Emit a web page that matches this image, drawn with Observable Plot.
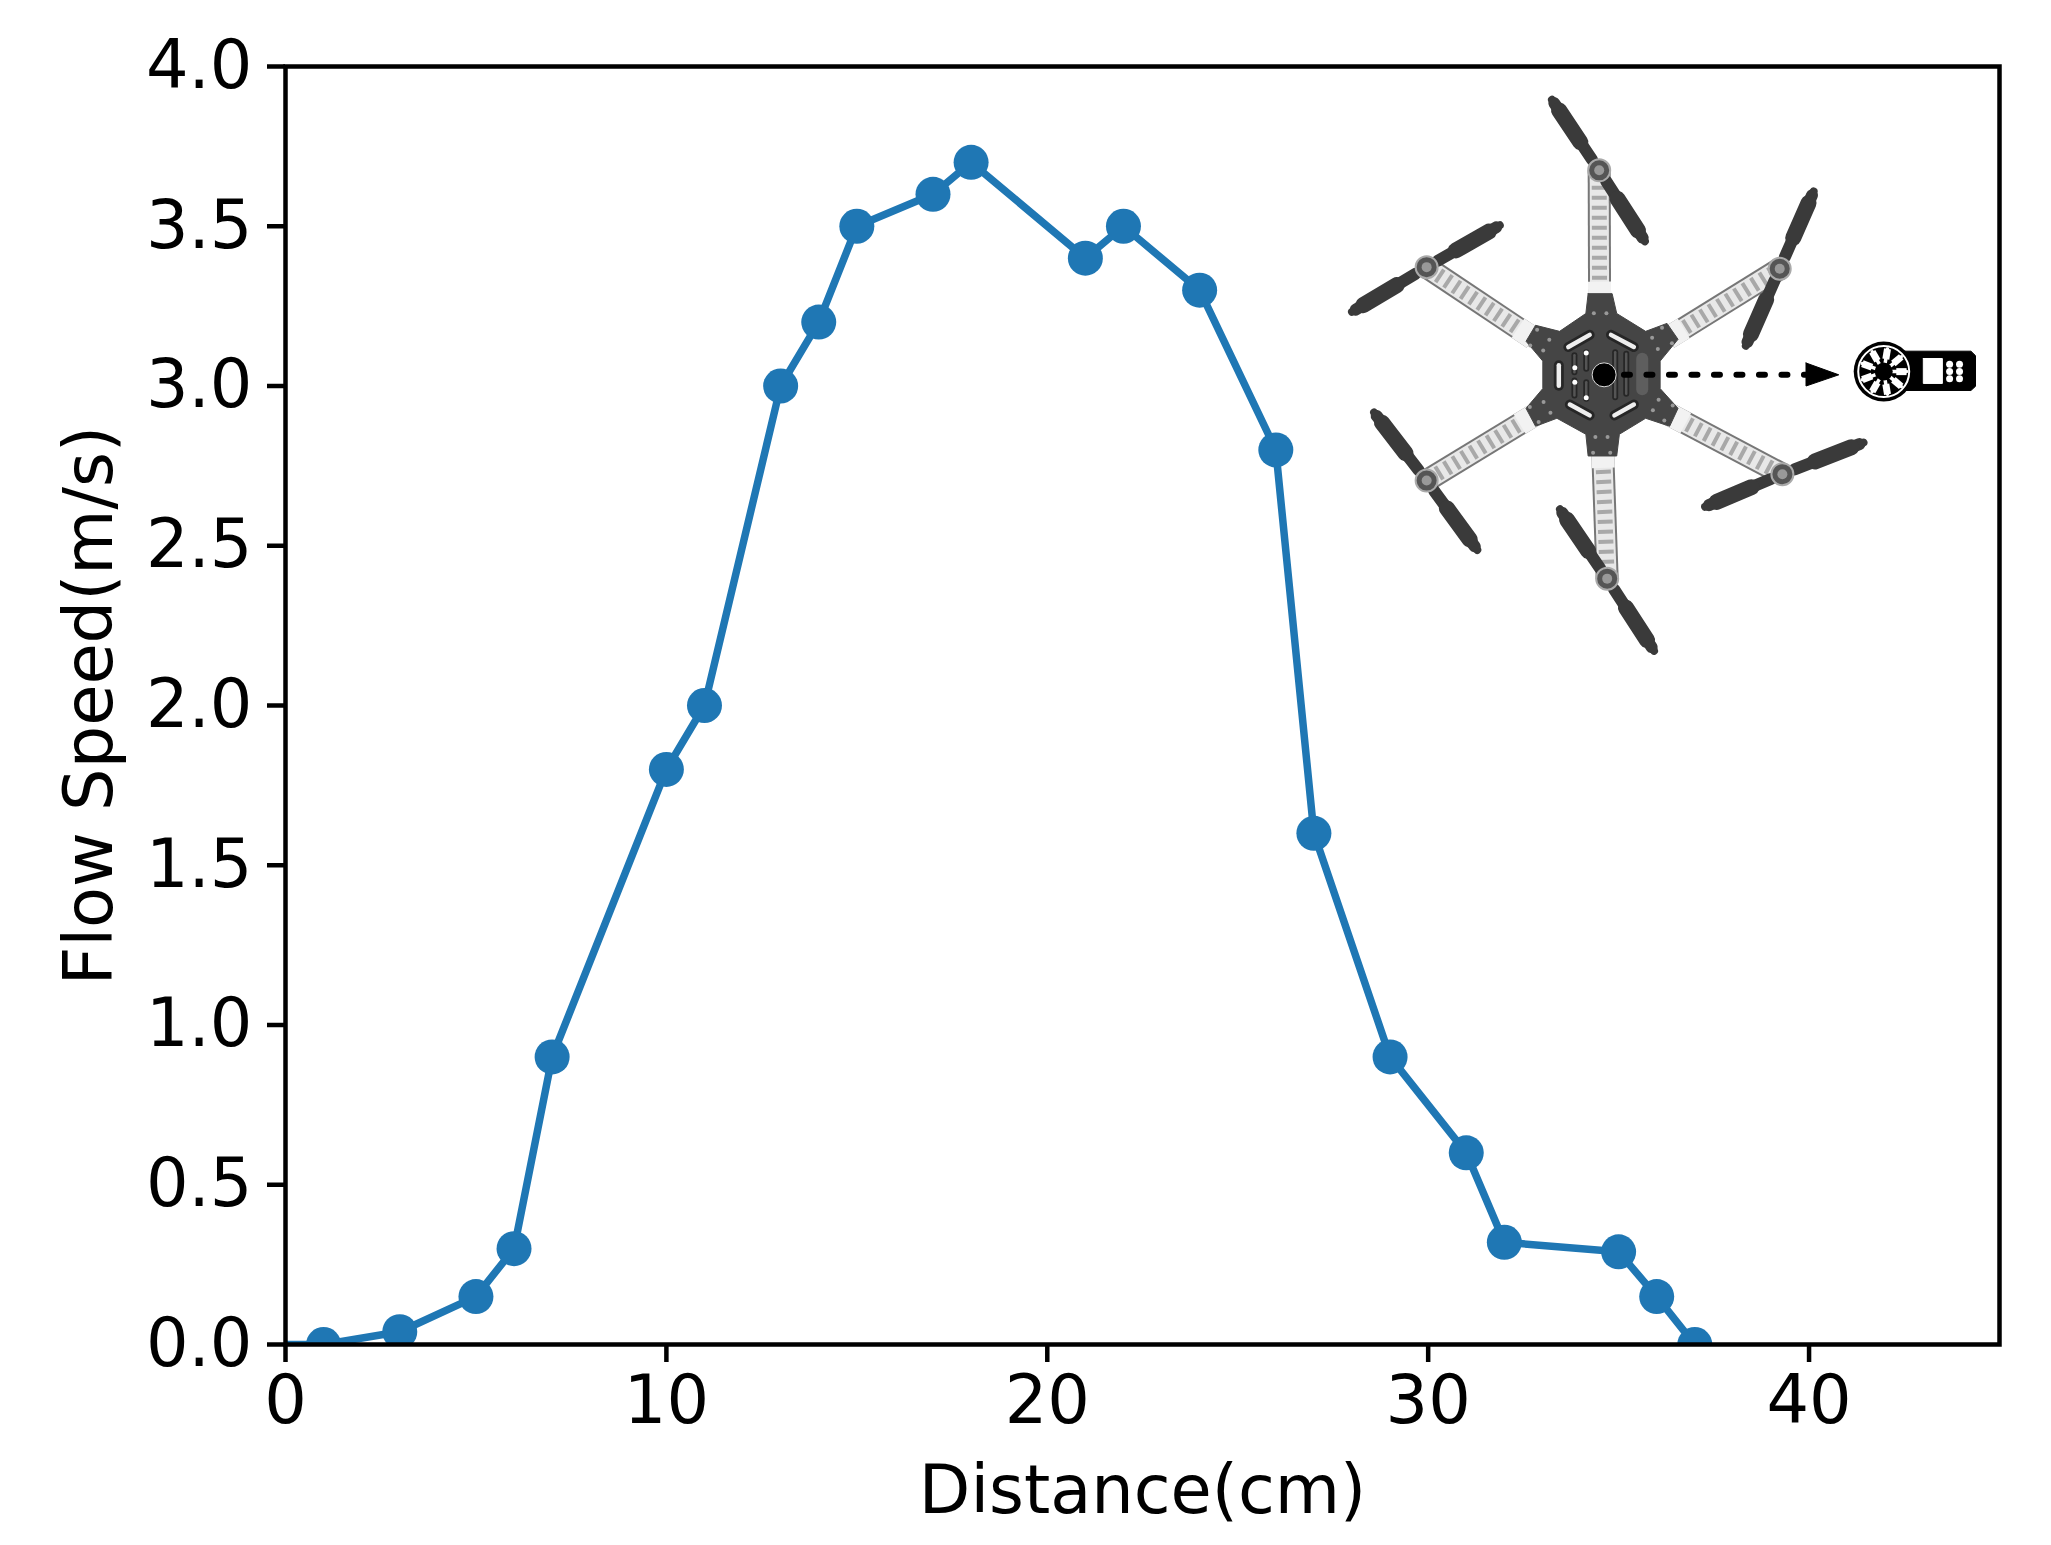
<!DOCTYPE html>
<html><head><meta charset="utf-8">
<script src="https://cdn.jsdelivr.net/npm/d3@7"></script>
<script src="https://cdn.jsdelivr.net/npm/@observablehq/plot@0.6"></script>
<style>html,body{margin:0;padding:0;background:#fff}svg{display:block}</style>
</head><body><div id="chart"></div>
<script>
// Measured series
const distance = [-1,1,3,5,6,7,10,11,13,14,15,17,18,21,22,24,26,27,29,31,32,35,36,37];
const speed = [0,0,0.04,0.15,0.3,0.9,1.8,2.0,3.0,3.2,3.5,3.6,3.7,3.4,3.5,3.3,2.8,1.6,0.9,0.6,0.32,0.29,0.15,0];
const xTicks = [0,10,20,30,40];
const yTicks = [0,0.5,1,1.5,2,2.5,3,3.5,4];

// Inset illustration, in chart units [distance, speed]
const motors = [[34.49,3.675],[39.23,3.367],[39.30,2.724],[34.70,2.397],[29.96,2.704],[29.96,3.372]];
const armRoots = [[34.50,3.27],[36.30,3.15],[36.35,2.91],[34.58,2.80],[32.80,2.91],[32.75,3.15]];
const propTipsA = [[33.25,3.896],[40.12,3.609],[41.43,2.823],[33.46,2.614],[28.58,2.917],[31.88,3.503]];
const propTipsB = [[35.69,3.453],[38.34,3.126],[37.27,2.622],[35.93,2.171],[31.29,2.487],[28.00,3.232]];
const plate = [[34.20,3.289],[34.83,3.289],[34.95,3.227],[35.71,3.171],[36.27,3.196],[36.56,3.146],[36.09,3.078],[36.09,2.992],[36.56,2.930],[36.34,2.874],[35.71,2.899],[35.02,2.849],[34.95,2.781],[34.20,2.781],[34.14,2.849],[33.38,2.899],[32.82,2.874],[32.57,2.930],[33.01,2.992],[33.01,3.078],[32.57,3.140],[32.82,3.190],[33.45,3.171],[34.14,3.227],[34.20,3.289]];
const windows = [[[33.68,3.122],[34.24,3.160]],[[34.80,3.160],[35.40,3.122]],[[33.72,2.942],[34.24,2.908]],[[34.89,2.908],[35.40,2.942]],[[33.43,3.065],[33.43,3.001]]];
const slots = [[[33.84,3.096],[33.84,3.043]],[[34.15,3.106],[34.15,3.054]],[[33.84,3.017],[33.84,2.970]],[[34.15,3.012],[34.15,2.960]],[[34.91,3.106],[34.91,2.965]],[[35.20,3.101],[35.20,2.976]]];
const slotSpots = [[33.85,3.057],[33.85,3.012],[34.15,3.103],[34.15,2.963]];
const lens = [[35.62,3.085],[35.62,2.990]];
const holes = [[34.35,3.228],[34.68,3.228],[32.86,3.176],[33.18,3.145],[33.02,3.111],[32.68,3.127],[36.14,3.182],[35.88,3.151],[36.03,3.116],[36.40,3.134],[32.67,2.934],[33.03,2.950],[33.21,2.916],[32.90,2.887],[36.42,2.939],[36.05,2.957],[35.90,2.924],[36.20,2.892],[34.39,2.840],[34.71,2.840],[34.33,2.791],[34.78,2.791]];
const hub = [[34.62,3.035]];
const arrowShaft = [[35.14,3.035],[39.95,3.035]];
const arrowHead = [[39.92,3.072],[40.78,3.035],[39.92,3.000],[39.92,3.072]];
const fanCentre = [[41.96,3.045]];
const fanSpokes = [[42.56,3.045],[42.42,3.091],[42.06,3.116],[41.66,3.107],[41.40,3.070],[41.40,3.020],[41.66,2.983],[42.06,2.974],[42.42,2.999]];
const meterBody = [[42.45,3.109],[44.25,3.109],[44.37,3.095],[44.37,2.999],[44.25,2.986],[42.45,2.986],[42.45,3.109]];
const meterScreen = [[43.00,3.086],[43.50,3.086],[43.50,3.008],[43.00,3.008],[43.00,3.086]];
const meterButtons = [[43.69,3.068],[43.95,3.068],[43.69,3.045],[43.95,3.045],[43.69,3.023],[43.95,3.023]];

const px = d => d[0], py = d => d[1];
const along = (a, b, t) => [a[0] + (b[0] - a[0]) * t, a[1] + (b[1] - a[1]) * t];
const seg = (a, b, opts) => Plot.line([a, b], {x: px, y: py, ...opts});
const poly = (p, fill) => Plot.line(p, {x: px, y: py, fill, stroke: fill, strokeWidth: 1});

const arms = motors.flatMap((m, i) => [
  seg(armRoots[i], m, {stroke: "#777", strokeWidth: 23, strokeLinecap: "butt"}),
  seg(armRoots[i], m, {stroke: "#e8e8e8", strokeWidth: 19, strokeLinecap: "butt"}),
  seg(armRoots[i], m, {stroke: "#a8a8a8", strokeWidth: 15, strokeDasharray: "4 6", strokeLinecap: "butt"}),
  seg(armRoots[i], along(armRoots[i], m, 0.14), {stroke: "#f2f2f2", strokeWidth: 23, strokeLinecap: "butt"})
]);
const props = motors.flatMap((m, i) => [propTipsA[i], propTipsB[i]].flatMap(tip => [
  seg(tip, m, {stroke: "#3a3a3a", strokeWidth: 8, strokeLinecap: "round"}),
  seg(along(tip, m, 0.05), along(tip, m, 0.85), {stroke: "#3a3a3a", strokeWidth: 12, strokeLinecap: "round"}),
  seg(along(tip, m, 0.15), along(tip, m, 0.6), {stroke: "#3a3a3a", strokeWidth: 16, strokeLinecap: "round"})
]));

const chart = Plot.plot({
  width: 2051, height: 1545,
  marginLeft: 285, marginRight: 52, marginTop: 66, marginBottom: 201,
  style: {fontFamily: "'DejaVu Sans', sans-serif", background: "#fff", color: "#000"},
  x: {domain: [0, 45]},
  y: {domain: [0, 4]},
  marks: [
    Plot.line(distance.map((d, i) => [d, speed[i]]), {x: px, y: py, stroke: "#1f77b4", strokeWidth: 7.5, clip: "frame"}),
    Plot.dot(distance.map((d, i) => [d, speed[i]]), {x: px, y: py, r: 17.5, fill: "#1f77b4", clip: "frame"}),
    ...arms,
    ...props,
    Plot.dot(motors, {x: px, y: py, r: 11, fill: "#555", stroke: "#aaa", strokeWidth: 2}),
    Plot.dot(motors, {x: px, y: py, r: 5, fill: "#999"}),
    poly(plate, "#454545"),
    Plot.dot(holes, {x: px, y: py, r: 2, fill: "#999"}),
    ...windows.map(s => seg(s[0], s[1], {stroke: "#262626", strokeWidth: 10, strokeLinecap: "round"})),
    ...windows.map(s => seg(s[0], s[1], {stroke: "#eee", strokeWidth: 4.5, strokeLinecap: "round"})),
    ...slots.map(s => seg(s[0], s[1], {stroke: "#262626", strokeWidth: 6, strokeLinecap: "round"})),
    ...slots.map(s => seg(s[0], s[1], {stroke: "#555", strokeWidth: 2.5, strokeLinecap: "round"})),
    Plot.dot(slotSpots, {x: px, y: py, r: 2.5, fill: "#fff"}),
    Plot.line(lens, {x: px, y: py, stroke: "#5e5e5e", strokeWidth: 12, strokeLinecap: "round"}),
    Plot.line(arrowShaft, {x: px, y: py, stroke: "#000", strokeWidth: 6, strokeDasharray: "6 16.5", strokeLinecap: "round"}),
    poly(arrowHead, "#000"),
    Plot.dot(hub, {x: px, y: py, r: 12, fill: "#000", stroke: "#ddd", strokeWidth: 1}),
    poly(meterBody, "#000"),
    Plot.dot(fanCentre, {x: px, y: py, r: 30, fill: "#000"}),
    Plot.dot(fanCentre, {x: px, y: py, r: 25.5, fill: "none", stroke: "#fff", strokeWidth: 2}),
    ...fanSpokes.map(t => seg(along(fanCentre[0], t, 0.55), t, {stroke: "#fff", strokeWidth: 7, strokeLinecap: "butt"})),
    ...fanSpokes.map(t => seg(fanCentre[0], t, {stroke: "#fff", strokeWidth: 3.5})),
    Plot.dot(fanCentre, {x: px, y: py, r: 9, fill: "#000"}),
    poly(meterScreen, "#fff"),
    Plot.dot(meterButtons, {x: px, y: py, r: 3.5, fill: "#fff"}),
    Plot.frame({stroke: "#000", strokeWidth: 4.5}),
    Plot.axisX({ticks: xTicks, tickSize: 18, tickPadding: 13, strokeWidth: 4.5, fontSize: 67, tickFormat: d3.format("d"), label: "Distance(cm)", labelAnchor: "center", labelArrow: "none", labelOffset: 168}),
    Plot.axisY({ticks: yTicks, tickSize: 18, tickPadding: 15, strokeWidth: 4.5, fontSize: 67, tickFormat: d3.format(".1f"), label: "Flow Speed(m/s)", labelAnchor: "center", labelArrow: "none", labelOffset: 221})
  ]
});
document.getElementById("chart").append(chart);
</script></body></html>
